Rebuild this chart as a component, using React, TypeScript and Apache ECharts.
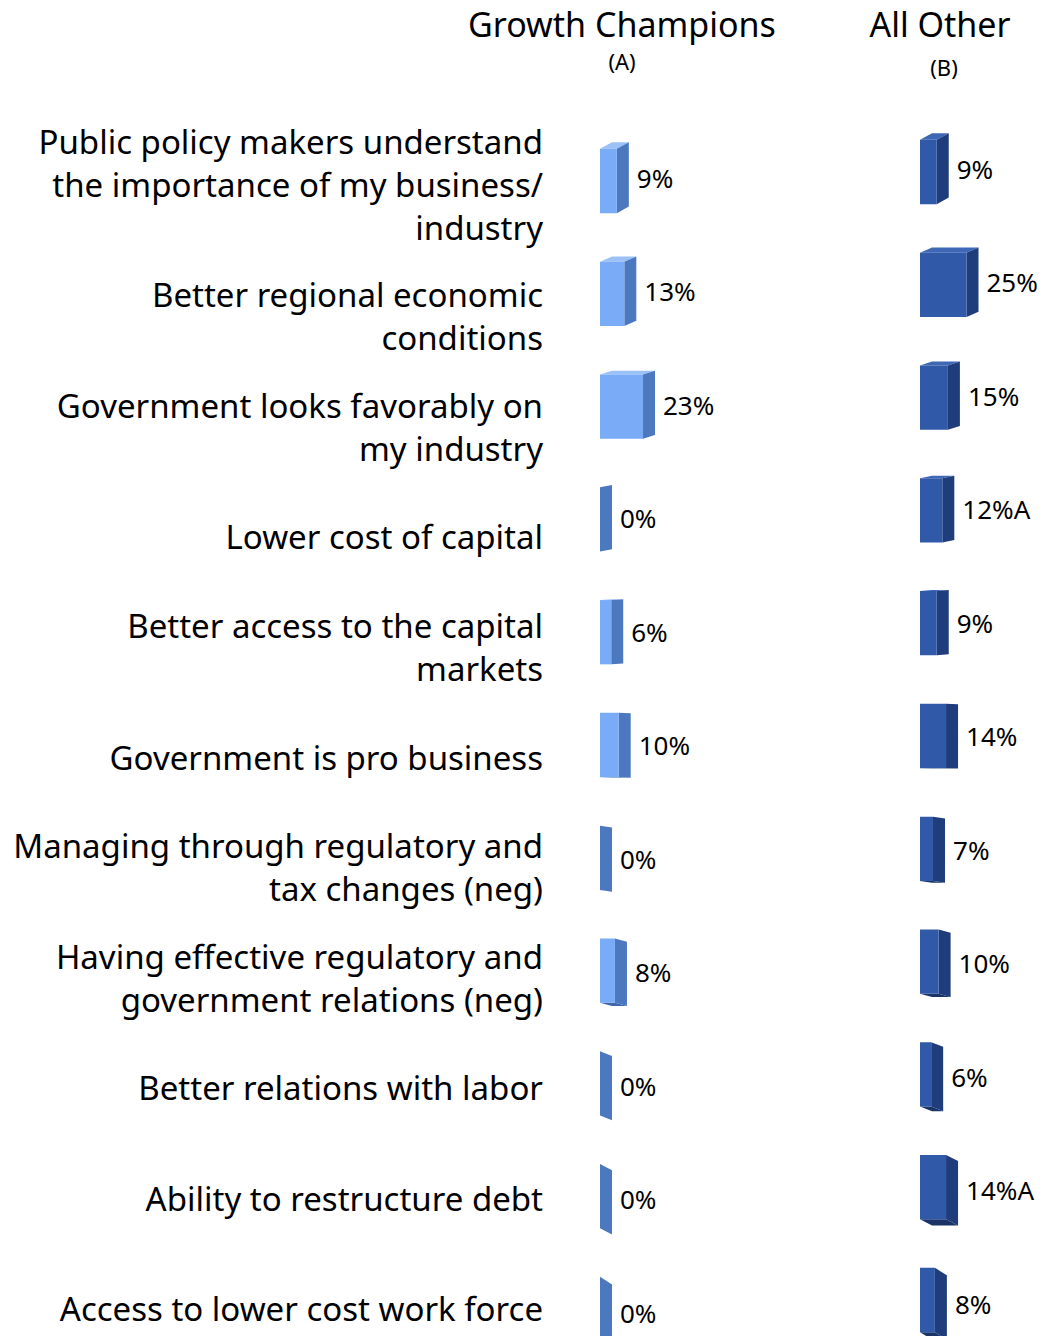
import React, { useEffect, useRef } from "react";
import * as echarts from "echarts";

const categories = [
  "Public policy makers understand\nthe importance of my business/\nindustry",
  "Better regional economic\nconditions",
  "Government looks favorably on\nmy industry",
  "Lower cost of capital",
  "Better access to the capital\nmarkets",
  "Government is pro business",
  "Managing through regulatory and\ntax changes (neg)",
  "Having effective regulatory and\ngovernment relations (neg)",
  "Better relations with labor",
  "Ability to restructure debt",
  "Access to lower cost work force",
];
const growthChampions = [9, 13, 23, 0, 6, 10, 0, 8, 0, 0, 0];
const growthSig = ["", "", "", "", "", "", "", "", "", "", ""];
const allOther = [9, 25, 15, 12, 9, 14, 7, 10, 6, 14, 8];
const allOtherSig = ["", "", "", "A", "", "", "", "", "", "A", ""];
const headers = [
  { title: "Growth Champions", sub: "(A)" },
  { title: "All Other", sub: "(B)" },
];

const FONT = "Noto Sans";

function makeRender(
  colors: { front: string; side: string; top: string; bottom: string },
  sig: string[]
) {
  return (params: any, api: any) => {
    const v = api.value(0);
    const c = api.value(1);
    const p0 = api.coord([0, c]);
    const p1 = api.coord([v, c]);
    const band = api.size([0, 1])[1];
    const h = band * 0.57;
    const dx = 12;
    const x0 = p0[0];
    const x1 = p1[0];
    const yc = p0[1];
    const yT = yc - h / 2;
    const yB = yc + h / 2;
    const dy = 0.0125 * (yc - 705);
    const children: any[] = [];
    if (dy > 0) {
      children.push({
        type: "polygon",
        shape: { points: [[x0, yB], [x1, yB], [x1 + dx, yB + dy], [x0 + dx, yB + dy]] },
        style: { fill: colors.bottom },
      });
    } else {
      children.push({
        type: "polygon",
        shape: { points: [[x0, yT], [x1, yT], [x1 + dx, yT + dy], [x0 + dx, yT + dy]] },
        style: { fill: colors.top },
      });
    }
    children.push({
      type: "polygon",
      shape: { points: [[x1, yT], [x1 + dx, yT + dy], [x1 + dx, yB + dy], [x1, yB]] },
      style: { fill: colors.side },
    });
    if (x1 > x0) {
      children.push({
        type: "rect",
        shape: { x: x0, y: yT, width: x1 - x0, height: h },
        style: { fill: colors.front },
      });
    }
    children.push({
      type: "text",
      style: {
        x: x1 + dx + 8,
        y: yc + dy / 2,
        text: v + "%" + (sig[params.dataIndex] || ""),
        fill: "#000",
        fontSize: 26,
        fontFamily: FONT,
        align: "left",
        verticalAlign: "middle",
      },
    });
    return { type: "group", children };
  };
}

export default function App() {
  const ref = useRef<HTMLDivElement>(null);
  useEffect(() => {
    document.body.style.margin = "0";
    if (!ref.current) return;
    const chart = echarts.init(ref.current, null, { renderer: "svg" });
    const H = 1336;
    const rowH = 112.8;
    const gridH = rowH * categories.length;
    const labelRowH = 110.2;
    const labelGridH = labelRowH * categories.length;
    const topA = 124.6;
    const topB = 115.6;
    const topL = 151.1;
    chart.setOption({
      animation: false,
      backgroundColor: "#fff",
      textStyle: { fontFamily: FONT },
      grid: [
        { left: 600, width: 93.5, top: topA, height: gridH, outerBoundsMode: "none", containLabel: false },
        { left: 920, width: 93, top: topB, height: gridH, outerBoundsMode: "none", containLabel: false },
        { left: 600, width: 50, top: topL, height: labelGridH, outerBoundsMode: "none", containLabel: false },
      ],
      xAxis: [
        { type: "value", gridIndex: 0, min: 0, max: 50, show: false },
        { type: "value", gridIndex: 1, min: 0, max: 50, show: false },
        { type: "value", gridIndex: 2, min: 0, max: 50, show: false },
      ],
      yAxis: [
        {
          type: "category",
          gridIndex: 0,
          data: categories,
          inverse: true,
          show: false,
        },
        {
          type: "category",
          gridIndex: 1,
          data: categories,
          inverse: true,
          show: false,
        },
        {
          type: "category",
          gridIndex: 2,
          data: categories,
          inverse: true,
          axisLine: { show: false },
          axisTick: { show: false },
          splitLine: { show: false },
          axisLabel: {
            interval: 0,
            margin: 57,
            fontSize: 33,
            lineHeight: 43,
            color: "#000",
            fontFamily: FONT,
            align: "right",
            hideOverlap: false,
            formatter: (v: string, i: number) => (i === 0 ? v + "\n " : v),
          },
        },
      ],
      graphic: headers.flatMap((hd, i) => [
        {
          type: "text",
          x: i === 0 ? 622 : 940,
          y: 24,
          style: {
            text: hd.title,
            fontSize: 34,
            fontFamily: FONT,
            fill: "#000",
            align: "center",
            verticalAlign: "middle",
          },
        },
        {
          type: "text",
          x: i === 0 ? 622 : 944,
          y: i === 0 ? 61 : 67,
          style: {
            text: hd.sub,
            fontSize: 22,
            fontFamily: FONT,
            fill: "#000",
            align: "center",
            verticalAlign: "middle",
          },
        },
      ]),
      series: [
        {
          type: "custom",
          name: "Growth Champions (A)",
          xAxisIndex: 0,
          yAxisIndex: 0,
          clip: false,
          renderItem: makeRender(
            { front: "#79abf7", side: "#4c78bf", top: "#9cc1f7", bottom: "#3f66a8" },
            growthSig
          ),
          encode: { x: 0, y: 1 },
          data: growthChampions.map((v, i) => [v, i]),
        },
        {
          type: "custom",
          name: "All Other (B)",
          xAxisIndex: 1,
          yAxisIndex: 1,
          clip: false,
          renderItem: makeRender(
            { front: "#3059a8", side: "#1f3d7a", top: "#3e68b6", bottom: "#1a3468" },
            allOtherSig
          ),
          encode: { x: 0, y: 1 },
          data: allOther.map((v, i) => [v, i]),
        },
      ],
    });
    return () => chart.dispose();
  }, []);
  return <div ref={ref} style={{ width: 1041, height: 1336 }} />;
}
